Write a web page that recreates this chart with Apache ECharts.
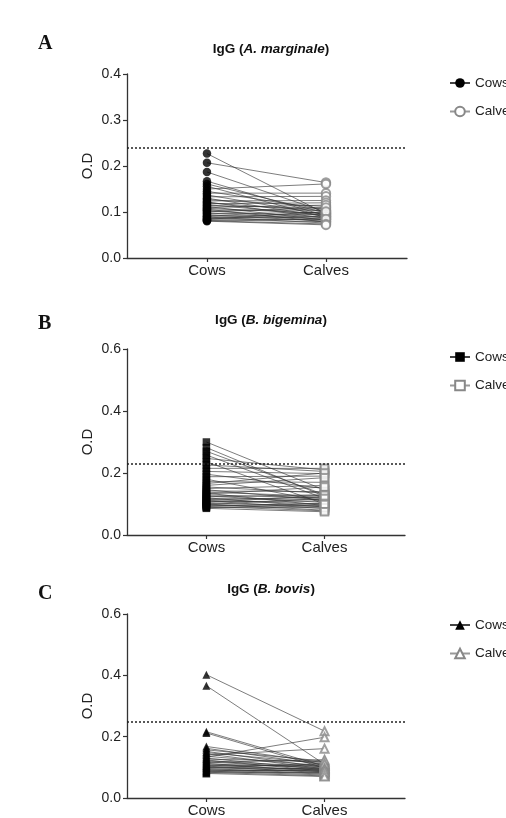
<!DOCTYPE html>
<html>
<head>
<meta charset="utf-8">
<script src="https://cdn.jsdelivr.net/npm/echarts@6/dist/echarts.min.js"></script>
<style>
html,body{margin:0;padding:0;background:#fff;}
#chart{width:506px;height:818px;}
</style>
</head>
<body>
<div id="chart"></div>
<script>
// Categories / tick labels
var categories = ['Cows', 'Calves'];
var ticksA = [0, 0.1, 0.2, 0.3, 0.4];
var ticksBC = [0, 0.2, 0.4, 0.6];

// Panel A: IgG (A. marginale)
var cowsA = [0.227,0.207,0.187,0.167,0.161,0.156,0.150,0.145,0.141,0.137,0.133,0.130,0.127,0.124,0.122,0.120,0.118,0.116,0.114,0.112,0.110,0.108,0.106,0.104,0.102,0.100,0.098,0.096,0.094,0.092,0.090,0.089,0.087,0.086,0.084,0.083,0.082,0.081,0.080];
var calvesA = [0.096,0.164,0.100,0.092,0.098,0.088,0.161,0.105,0.141,0.094,0.134,0.090,0.112,0.125,0.086,0.102,0.120,0.093,0.108,0.082,0.115,0.097,0.078,0.104,0.089,0.110,0.084,0.099,0.080,0.095,0.087,0.076,0.091,0.083,0.101,0.079,0.085,0.074,0.072];
var cutoffA = 0.237;

// Panel B: IgG (B. bigemina)
var cowsB = [0.300,0.282,0.270,0.258,0.247,0.236,0.226,0.215,0.205,0.196,0.188,0.180,0.172,0.166,0.160,0.155,0.150,0.146,0.142,0.138,0.135,0.132,0.129,0.126,0.123,0.120,0.117,0.114,0.112,0.110,0.107,0.105,0.102,0.100,0.098,0.096,0.094,0.092,0.090,0.088,0.086];
var calvesB = [0.145,0.125,0.130,0.118,0.210,0.100,0.205,0.215,0.198,0.150,0.190,0.108,0.170,0.200,0.185,0.135,0.160,0.112,0.140,0.125,0.095,0.155,0.120,0.105,0.130,0.090,0.115,0.122,0.100,0.085,0.110,0.128,0.095,0.080,0.118,0.092,0.102,0.078,0.088,0.098,0.075];
var cutoffB = 0.229;

// Panel C: IgG (B. bovis)
var cowsC = [0.402,0.366,0.216,0.212,0.168,0.162,0.157,0.152,0.148,0.144,0.140,0.136,0.133,0.130,0.127,0.124,0.121,0.118,0.116,0.113,0.111,0.108,0.106,0.104,0.102,0.100,0.098,0.096,0.094,0.092,0.090,0.088,0.086,0.084,0.082,0.080];
var calvesC = [0.218,0.110,0.104,0.098,0.115,0.108,0.120,0.100,0.112,0.095,0.161,0.105,0.198,0.092,0.118,0.088,0.102,0.096,0.125,0.085,0.100,0.090,0.107,0.082,0.094,0.086,0.112,0.080,0.097,0.078,0.089,0.075,0.093,0.072,0.084,0.070];
var cutoffC = 0.252;

var FONT = '"Liberation Sans", Arial, Helvetica, sans-serif';
var AX = '#333';

var panels = [
  {cows: cowsA, calves: calvesA, cutoff: cutoffA, max: 0.4, interval: 0.1, species: 'A. marginale', letter: 'A',
   sym: 'circle', esym: 'emptyCircle', size: 8.5,
   grid: {left: 127, right: 99, top: 74, height: 184}, titleTop: 37, letterTop: 29, legendTop: 76, sfx: ''},
  {cows: cowsB, calves: calvesB, cutoff: cutoffB, max: 0.6, interval: 0.2, species: 'B. bigemina', letter: 'B',
   sym: 'rect', esym: 'emptyRect', size: 7.5,
   grid: {left: 127, right: 101, top: 349, height: 186}, titleTop: 308, letterTop: 309, legendTop: 350, sfx: ' '},
  {cows: cowsC, calves: calvesC, cutoff: cutoffC, max: 0.6, interval: 0.2, species: 'B. bovis', letter: 'C',
   sym: 'triangle', esym: 'emptyTriangle', size: 8,
   grid: {left: 127, right: 101, top: 614, height: 187}, titleTop: 577, letterTop: 579, legendTop: 618, sfx: '  '}
];

var grids = [], xAxes = [], yAxes = [], series = [], titles = [], legends = [];

panels.forEach(function (p, i) {
  grids.push(p.grid);
  xAxes.push({
    type: 'value', gridIndex: i, min: -0.672, max: 1.681,
    axisLine: {onZero: false, lineStyle: {color: AX, width: 1.3}},
    axisTick: {show: true, customValues: [0, 1], length: 4, lineStyle: {color: AX, width: 1.2}},
    axisLabel: {customValues: [0, 1], margin: 5, fontFamily: FONT, fontSize: 15, color: '#222',
      formatter: function (v) { return categories[Math.round(v)]; }},
    splitLine: {show: false}
  });
  yAxes.push({
    type: 'value', gridIndex: i, min: 0, max: p.max, interval: p.interval,
    name: 'O.D', nameLocation: 'middle', nameGap: 32, nameMoveOverlap: false,
    nameTextStyle: {fontFamily: FONT, fontSize: 15, color: '#222'},
    axisLine: {show: true, onZero: false, lineStyle: {color: AX, width: 1.3}},
    axisTick: {show: true, length: 4, lineStyle: {color: AX, width: 1.2}},
    axisLabel: {margin: 6, fontFamily: FONT, fontSize: 14, color: '#222',
      formatter: function (v) { return v.toFixed(1); }},
    splitLine: {show: false}
  });

  titles.push({
    text: '{b|IgG (}{bi|' + p.species + '}{b|)}', left: 266, top: p.titleTop, textAlign: 'center',
    textStyle: {rich: {
      b: {fontFamily: FONT, fontSize: 13.5, fontWeight: 'bold', color: '#111'},
      bi: {fontFamily: FONT, fontSize: 13.5, fontWeight: 'bold', fontStyle: 'italic', color: '#111'}
    }}
  });
  titles.push({
    text: p.letter, left: 33, top: p.letterTop,
    textStyle: {fontFamily: '"Liberation Serif", "Times New Roman", serif', fontSize: 20, fontWeight: 'bold', color: '#111'}
  });

  var cowName = 'Cows' + p.sfx, calfName = 'Calves' + p.sfx;
  // legend-only series
  series.push({
    name: cowName, type: 'line', xAxisIndex: i, yAxisIndex: i, data: [],
    symbol: p.sym, symbolSize: p.size - 1,
    itemStyle: {color: '#000'}, lineStyle: {color: '#444', width: 1}
  });
  series.push({
    name: calfName, type: 'line', xAxisIndex: i, yAxisIndex: i, data: [],
    symbol: p.esym, symbolSize: p.size - 1,
    itemStyle: {color: '#888', borderColor: '#888'}, lineStyle: {color: '#999', width: 1}
  });
  legends.push({
    data: [cowName, calfName], orient: 'vertical', left: 449, top: p.legendTop, padding: 0,
    itemWidth: 20, itemHeight: 12, itemGap: 14.5,
    textStyle: {fontFamily: FONT, fontSize: 13.5, color: '#222'},
    formatter: function (n) { return n.trim(); },
    selectedMode: false
  });

  // pair lines
  p.cows.forEach(function (c, k) {
    series.push({
      type: 'line', xAxisIndex: i, yAxisIndex: i, silent: true, symbol: 'none',
      data: [[0, c], [1, p.calves[k]]],
      lineStyle: {color: '#333', width: 0.8, opacity: 0.8}, z: 2,
      markLine: k === 0 ? {
        silent: true, symbol: 'none', label: {show: false},
        lineStyle: {type: [2, 2], color: '#222', width: 1.6, opacity: 1},
        data: [{yAxis: p.cutoff}]
      } : undefined
    });
  });
  series.push({
    name: 'cowPts' + i, type: 'scatter', xAxisIndex: i, yAxisIndex: i, silent: true,
    symbol: p.sym, symbolSize: p.size, z: 4,
    itemStyle: {color: '#000'},
    data: p.cows.map(function (c) { return [0, c]; })
  });
  series.push({
    name: 'calfPts' + i, type: 'scatter', xAxisIndex: i, yAxisIndex: i, silent: true,
    symbol: p.esym, symbolSize: p.size, z: 3,
    itemStyle: {color: '#888', borderColor: '#888', borderWidth: 1},
    data: p.calves.map(function (v) { return [1, v]; })
  });
});

var chart = echarts.init(document.getElementById('chart'), null, {renderer: 'canvas'});
chart.setOption({
  animation: false,
  backgroundColor: '#fff',
  title: titles,
  legend: legends,
  grid: grids,
  xAxis: xAxes,
  yAxis: yAxes,
  series: series
});
</script>
</body>
</html>
